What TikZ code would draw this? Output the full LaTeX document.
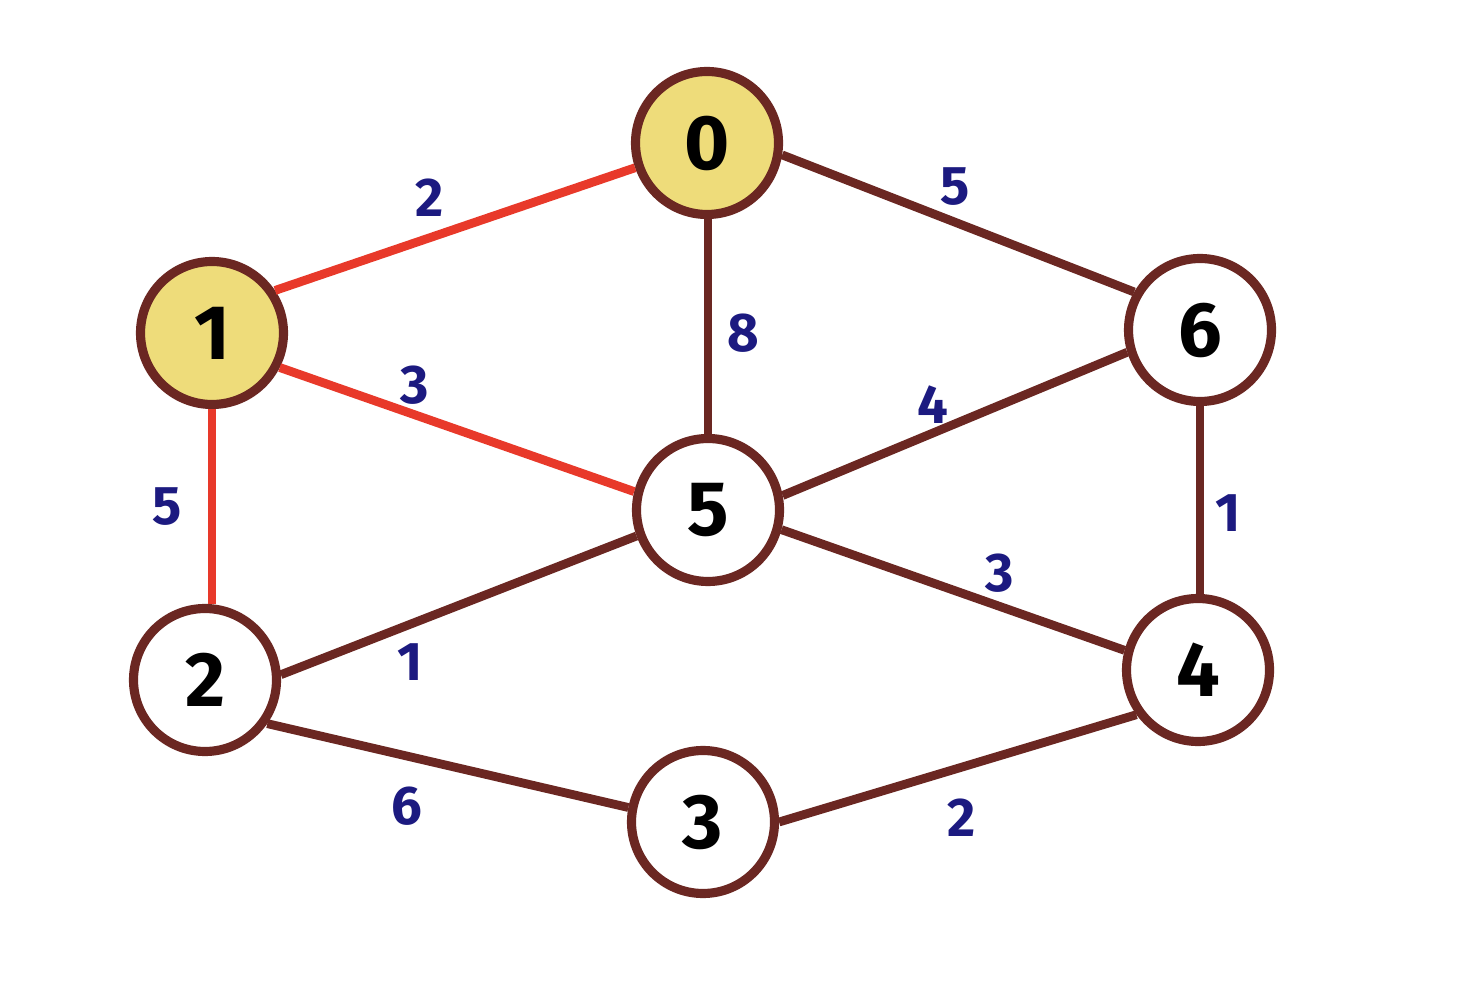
\documentclass[tikz,border=0pt]{standalone}
\usepackage{fontspec}
\setmainfont{Fira Sans}
\definecolor{linkbrown}{HTML}{6B2722}
\definecolor{pathred}{HTML}{E8392A}
\definecolor{visitfill}{HTML}{EEDC7A}
\definecolor{weightblue}{HTML}{1C1A80}
\begin{document}
\begin{tikzpicture}[
    vertex/.style={circle, draw=linkbrown, line width=2.6pt, fill=white, minimum size=1.43cm, inner sep=0pt, font=\fontsize{22}{22}\selectfont\bfseries},
    visited/.style={vertex, fill=visitfill},
    link/.style={linkbrown, line width=2.5pt},
    chosen/.style={pathred, line width=2.5pt},
    weight/.style={text=weightblue, inner sep=0pt, font=\fontsize{15.5}{15.5}\selectfont\bfseries}]
            \useasboundingbox (0,0) rectangle (14.61,9.90);
            % vertices
            \node[visited] (n0) at (7.07,8.47) {0};
            \node[visited] (n1) at (2.12,6.57) {1};
            \node[vertex] (n6) at (12.00,6.60) {6};
            \node[vertex] (n5) at (7.08,4.80) {5};
            \node[vertex] (n2) at (2.05,3.10) {2};
            \node[vertex] (n4) at (11.98,3.20) {4};
            \node[vertex] (n3) at (7.03,1.68) {3};
            % edges
            \draw[chosen] (n1.34) -- (n0.199);
            \draw[chosen] (n1.-27) -- (n5.166);
            \draw[chosen] (n1.south) -- (n2.north -| n1.south);
            \draw[link] (n0.-9) -- (n6.150);
            \draw[link] (n0.south -| n5.north) -- (n5.north);
            \draw[link] (n5.11) -- (n6.197);
            \draw[link] (n5.-15) -- (n4.165);
            \draw[link] (n6.south) -- (n4.north -| n6.south);
            \draw[link] (n2.4) -- (n5.200);
            \draw[link] (n2.-35) -- (n3.169);
            \draw[link] (n3.0) -- (n4.216);
            % weights
            \node[weight] (w01) at (4.30,7.92) {2};
            \node[weight] (w06) at (9.55,8.03) {5};
            \node[weight] (w05) at (7.43,6.57) {8};
            \node[weight] (w15) at (4.15,6.05) {3};
            \node[weight] (w56) at (9.33,5.85) {4};
            \node[weight] (w12) at (1.67,4.83) {5};
            \node[weight] (w64) at (12.28,4.77) {1};
            \node[weight] (w54) at (10.00,4.17) {3};
            \node[weight] (w25) at (4.10,3.28) {1};
            \node[weight] (w23) at (4.07,1.84) {6};
            \node[weight] (w34) at (9.62,1.72) {2};
\end{tikzpicture}
\end{document}
